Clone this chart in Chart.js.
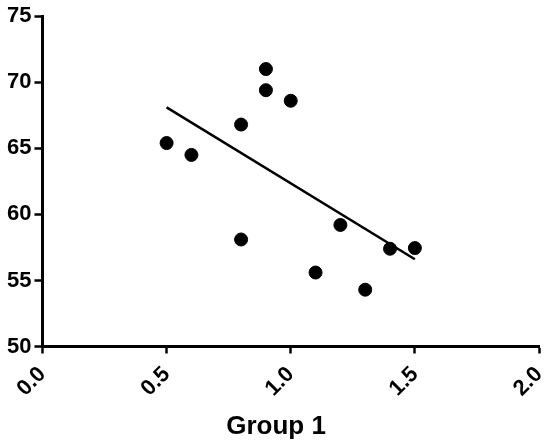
<!DOCTYPE html>
<html>
<head>
<meta charset="utf-8">
<script src="https://cdn.jsdelivr.net/npm/chart.js@4"></script>
<style>
  html, body { margin: 0; padding: 0; background: #ffffff; }
  #wrap { width: 550px; height: 442px; }
</style>
</head>
<body>
<div id="wrap"><canvas id="c" width="550" height="442"></canvas></div>
<script>
// Data
const xValues = [0.5, 0.6, 0.8, 0.8, 0.9, 0.9, 1.0, 1.1, 1.2, 1.3, 1.4, 1.5];
const yValues = [65.4, 64.5, 66.8, 58.1, 71.0, 69.4, 68.6, 55.6, 59.2, 54.3, 57.4, 57.45];
const fitX = [0.5, 1.5];
const fitY = [68.1, 56.6];
const xTicks = [0.0, 0.5, 1.0, 1.5, 2.0];
const yTicks = [50, 55, 60, 65, 70, 75];
const xTitle = 'Group 1';

const points = xValues.map((x, i) => ({ x: x, y: yValues[i] }));
const fitLine = fitX.map((x, i) => ({ x: x, y: fitY[i] }));

const FONT = "'Liberation Sans', Arial, sans-serif";

new Chart(document.getElementById('c'), {
  type: 'scatter',
  data: {
    datasets: [
      {
        type: 'line',
        data: fitLine,
        borderColor: '#000000',
        borderWidth: 2.5,
        pointRadius: 0,
        fill: false,
        tension: 0
      },
      {
        type: 'scatter',
        data: points,
        backgroundColor: '#000000',
        borderColor: '#000000',
        borderWidth: 1,
        pointRadius: 6.5
      }
    ]
  },
  options: {
    responsive: false,
    animation: false,
    layout: { padding: { left: 4, right: 2, top: 4, bottom: 0 } },
    plugins: {
      legend: { display: false },
      tooltip: { enabled: false },
      title: {
        display: true,
        text: xTitle,
        position: 'bottom',
        color: '#000000',
        font: { family: FONT, size: 26, weight: 'bold' },
        padding: { top: 1, bottom: 0 }
      }
    },
    scales: {
      x: {
        type: 'linear',
        min: 0,
        max: 2,
        afterBuildTicks: (axis) => { axis.ticks = xTicks.map(v => ({ value: v })); },
        afterFit: (axis) => { axis.paddingRight = 11; },
        ticks: {
          color: '#000000',
          font: { family: FONT, size: 22, weight: 'bold' },
          minRotation: 45,
          maxRotation: 45,
          padding: 8,
          callback: (v) => Number(v).toFixed(1)
        },
        grid: {
          display: true,
          drawOnChartArea: false,
          drawTicks: true,
          tickLength: 7,
          tickWidth: 2.5,
          tickColor: '#000000'
        },
        border: { display: true, color: '#000000', width: 3 }
      },
      y: {
        type: 'linear',
        min: 50,
        max: 75,
        afterBuildTicks: (axis) => { axis.ticks = yTicks.map(v => ({ value: v })); },
        ticks: {
          color: '#000000',
          font: { family: FONT, size: 22, weight: 'bold' },
          padding: 3
        },
        grid: {
          display: true,
          drawOnChartArea: false,
          drawTicks: true,
          tickLength: 8,
          tickWidth: 2.5,
          tickColor: '#000000'
        },
        border: { display: true, color: '#000000', width: 3 }
      }
    }
  }
});
</script>
</body>
</html>
